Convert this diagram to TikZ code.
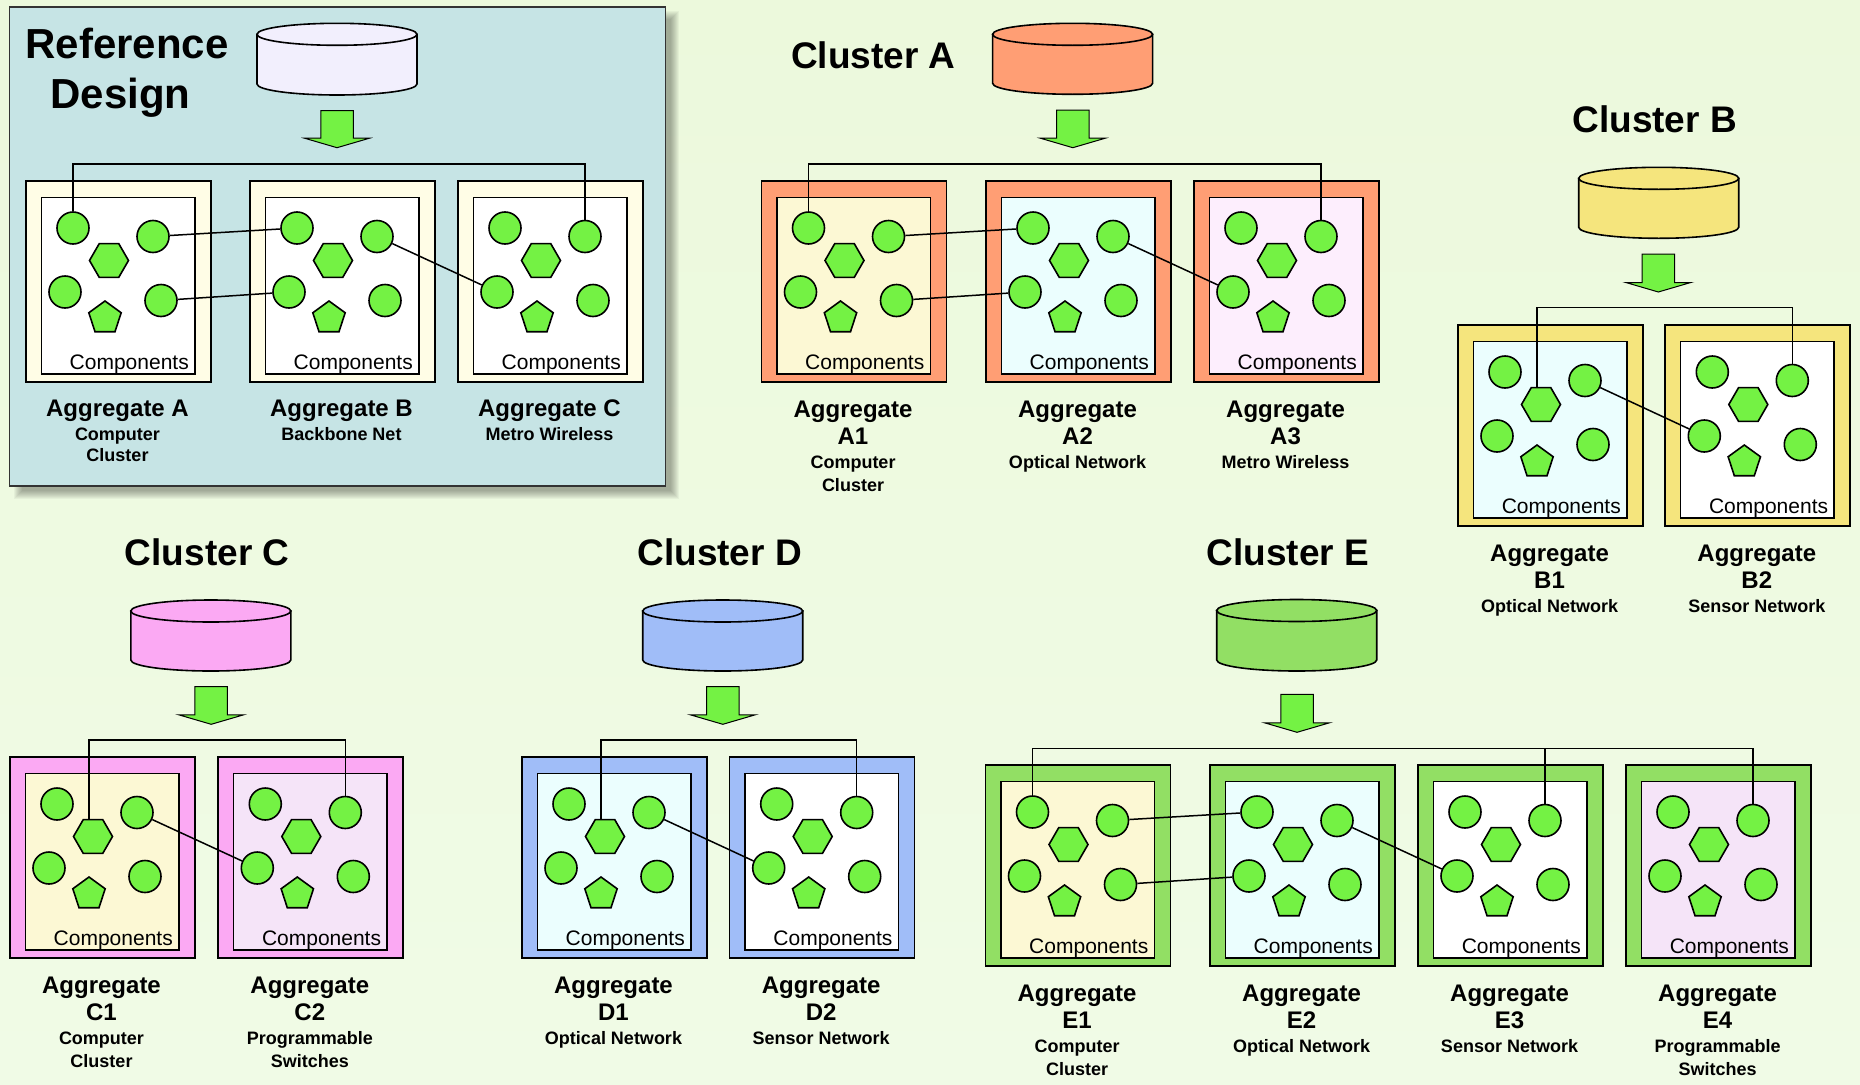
\documentclass[tikz,border=0pt]{standalone}
\usepackage{fontspec}
\setmainfont{Liberation Sans}
\usetikzlibrary{shapes.geometric}
\definecolor{bgtop}{HTML}{ECF9DC}
\definecolor{bgmid}{HTML}{DBF7B9}
\definecolor{bgbot}{HTML}{F0FBE6}
\definecolor{refbg}{HTML}{C6E4E5}
\definecolor{refcyl}{HTML}{F2EFFD}
\definecolor{cream}{HTML}{FFFDE6}
\definecolor{salmon}{HTML}{FF9E74}
\definecolor{yellowB}{HTML}{F5E57D}
\definecolor{pinkC}{HTML}{FBA9F3}
\definecolor{blueD}{HTML}{A0BDF8}
\definecolor{greenE}{HTML}{92DF64}
\definecolor{inyel}{HTML}{FCF8D4}
\definecolor{incyan}{HTML}{EBFEFE}
\definecolor{inpink}{HTML}{FDEEFD}
\definecolor{inlav}{HTML}{F5E4F8}
\definecolor{shapegreen}{HTML}{74F244}
\tikzset{
  outerbox/.style={draw=black, line width=1.6pt, rectangle, inner sep=0pt, anchor=north west, minimum width=185pt, minimum height=201pt},
  innerbox/.style={draw=black, line width=1.6pt, rectangle, inner sep=0pt, anchor=north west, minimum width=153.5pt, minimum height=176.5pt},
  comp/.style={circle, draw=black, line width=1.6pt, fill=shapegreen, minimum size=32pt, inner sep=0pt},
  hexa/.style={regular polygon, regular polygon sides=6, draw=black, line width=1.6pt, fill=shapegreen, minimum size=39pt, inner sep=0pt},
  penta/.style={regular polygon, regular polygon sides=5, draw=black, line width=1.6pt, fill=shapegreen, minimum size=34pt, inner sep=0pt},
  conn/.style={draw=black, line width=1.5pt},
  comptext/.style={font=\fontsize{21}{24}\selectfont, inner sep=0pt, anchor=base east},
  aggtitle/.style={font=\bfseries\fontsize{24}{28}\selectfont, inner sep=0pt, anchor=base},
  aggsub/.style={font=\bfseries\fontsize{18}{21}\selectfont, inner sep=0pt, anchor=base},
  clustertitle/.style={font=\bfseries\fontsize{37}{42}\selectfont, inner sep=0pt, anchor=base},
  bigtitle/.style={font=\bfseries\fontsize{42}{48}\selectfont, inner sep=0pt, anchor=base},
  cylfill/.style={draw=black, line width=1.6pt},
  blockarrow/.style={draw=black, line width=1pt, fill=shapegreen},
}
% aggregate: prefix, x, y, outer colour, inner colour
\newcommand{\mkagg}[5]{%
  \node[outerbox, fill=#4] (#1) at (#2,#3) {};
  \node[innerbox, fill=#5] (#1-in) at (#2+15.5,#3+16.5) {};
  \node[comp] (#1-c1) at (#2+48,#3+48) {};
  \node[comp] (#1-c2) at (#2+128,#3+56.5) {};
  \node[hexa] (#1-hex) at (#2+84,#3+80.5) {};
  \node[comp] (#1-c3) at (#2+40,#3+112) {};
  \node[comp] (#1-c4) at (#2+136,#3+120.5) {};
  \node[penta] (#1-pent) at (#2+80,#3+138) {};
  \node[comptext] (#1-txt) at (#2+164,#3+189.6) {Components};
}
% cluster labels: prefix, x, y, second line, subtitle
\newcommand{\mklabel}[5]{%
  \node[aggtitle] (#1-n1) at (#2+92.5,#3+237.5) {Aggregate};
  \node[aggtitle] (#1-n2) at (#2+92.5,#3+264.5) {#4};
  \node[aggsub] (#1-n3) at (#2+92.5,#3+288.5) {#5};
}
\newcommand{\mkextra}[4]{%
  \node[aggsub] (#1-n4) at (#2+92.5,#3+311) {#4};
}
% cylinder: centre x, top centre y, bottom centre y, colour
\newcommand{\mkcyl}[4]{%
  \filldraw[cylfill, fill=#4] (#1-80,#2) -- (#1-80,#3) arc[start angle=180, end angle=360, x radius=80pt, y radius=11pt] -- (#1+80,#2) -- cycle;
  \filldraw[cylfill, fill=#4] (#1,#2) ellipse [x radius=80pt, y radius=11pt];
}
% block arrow: centre x, top y, tip y
\newcommand{\mkarrow}[3]{%
  \filldraw[blockarrow] (#1-16.25,#2) -- (#1+16.25,#2) -- (#1+16.25,#3-9.5) -- (#1+32.5,#3-9.5) -- (#1,#3) -- (#1-32.5,#3-9.5) -- (#1-16.25,#3-9.5) -- cycle;
}
\begin{document}
\begin{tikzpicture}[x=1pt, y=-1pt]
\useasboundingbox (0,0) rectangle (1860,1084);
\shade[top color=bgtop, middle color=bgmid, bottom color=bgbot] (0,0) rectangle (1860,1084);

% ---------- Reference design panel ----------
\foreach \k in {0,...,8}
  \fill[black, opacity=0.04] (13.5+\k,11+\k) rectangle (678.5-\k,499-\k);
\filldraw[fill=refbg, draw=black!80, line width=1.5pt] (9.5,7) rectangle (665.5,486);
\node[bigtitle] (reftitle1) at (127,58.3) {Reference};
\node[bigtitle] (reftitle2) at (120.6,108.3) {Design};
\mkcyl{337}{34.3}{84}{refcyl}
\mkarrow{337}{110.7}{147.7}
\mkagg{RA}{25}{180}{cream}{white}
\mkagg{RB}{249}{180}{cream}{white}
\mkagg{RC}{457}{180}{cream}{white}
\node[aggtitle] (RA-n1) at (117.5,416.7) {Aggregate A};
\node[aggsub] (RA-n2) at (117.5,440.7) {Computer};
\node[aggsub] (RA-n3) at (117.5,461.7) {Cluster};
\node[aggtitle] (RB-n1) at (341.5,416.7) {Aggregate B};
\node[aggsub] (RB-n2) at (341.5,440.7) {Backbone Net};
\node[aggtitle] (RC-n1) at (549.5,416.7) {Aggregate C};
\node[aggsub] (RC-n2) at (549.5,440.7) {Metro Wireless};
\draw[conn] (RA-c1.north) -- (RA-c1.north |- 0,164) -- (RC-c2.north |- 0,164) -- (RC-c2.north);
\draw[conn] (RA-c2) -- (RB-c1);
\draw[conn] (RA-c4) -- (RB-c3);
\draw[conn] (RB-c2) -- (RC-c3);

% ---------- Cluster A ----------
\node[clustertitle] (titleA) at (873.3,68.3) {Cluster A};
\mkcyl{1072.6}{34.3}{83.3}{salmon}
\mkarrow{1072.8}{110}{147.7}
\mkagg{A1}{760.5}{180}{salmon}{inyel}
\mkagg{A2}{985}{180}{salmon}{incyan}
\mkagg{A3}{1193}{180}{salmon}{inpink}
\mklabel{A1}{760.5}{180}{A1}{Computer}
\mkextra{A1}{760.5}{180}{Cluster}
\mklabel{A2}{985}{180}{A2}{Optical Network}
\mklabel{A3}{1193}{180}{A3}{Metro Wireless}
\draw[conn] (A1-c1.north) -- (A1-c1.north |- 0,164) -- (A3-c2.north |- 0,164) -- (A3-c2.north);
\draw[conn] (A1-c2) -- (A2-c1);
\draw[conn] (A1-c4) -- (A2-c3);
\draw[conn] (A2-c2) -- (A3-c3);

% ---------- Cluster B ----------
\node[clustertitle] (titleB) at (1654.7,132.7) {Cluster B};
\mkcyl{1658.7}{178.3}{227.3}{yellowB}
\mkarrow{1658.3}{254}{292}
\mkagg{B1}{1457}{324}{yellowB}{incyan}
\mkagg{B2}{1664.3}{324}{yellowB}{white}
\mklabel{B1}{1457}{324}{B1}{Optical Network}
\mklabel{B2}{1664.3}{324}{B2}{Sensor Network}
\draw[conn] ([xshift=-4pt]B1-hex.north) -- ([xshift=-4pt]B1-hex.north |- 0,307.3) -- (B2-c2.north |- 0,307.3) -- (B2-c2.north);
\draw[conn] (B1-c2) -- (B2-c3);

% ---------- Cluster C ----------
\node[clustertitle] (titleC) at (207.2,565) {Cluster C};
\mkcyl{210.8}{611}{660}{pinkC}
\mkarrow{211.2}{686.5}{724.3}
\mkagg{C1}{9}{756}{pinkC}{inyel}
\mkagg{C2}{217.3}{756}{pinkC}{inlav}
\mklabel{C1}{9}{756}{C1}{Computer}
\mkextra{C1}{9}{756}{Cluster}
\mklabel{C2}{217.3}{756}{C2}{Programmable}
\mkextra{C2}{217.3}{756}{Switches}
\draw[conn] ([xshift=-4pt]C1-hex.north) -- ([xshift=-4pt]C1-hex.north |- 0,740) -- (C2-c2.north |- 0,740) -- (C2-c2.north);
\draw[conn] (C1-c2) -- (C2-c3);

% ---------- Cluster D ----------
\node[clustertitle] (titleD) at (719.7,565) {Cluster D};
\mkcyl{722.7}{611}{660}{blueD}
\mkarrow{722.8}{686.5}{724.3}
\mkagg{D1}{521}{756}{blueD}{incyan}
\mkagg{D2}{728.7}{756}{blueD}{white}
\mklabel{D1}{521}{756}{D1}{Optical Network}
\mklabel{D2}{728.7}{756}{D2}{Sensor Network}
\draw[conn] ([xshift=-4pt]D1-hex.north) -- ([xshift=-4pt]D1-hex.north |- 0,740) -- (D2-c2.north |- 0,740) -- (D2-c2.north);
\draw[conn] (D1-c2) -- (D2-c3);

% ---------- Cluster E ----------
\node[clustertitle] (titleE) at (1288,565) {Cluster E};
\mkcyl{1296.7}{610.5}{660}{greenE}
\mkarrow{1297}{694.3}{732.3}
\mkagg{E1}{984.5}{764}{greenE}{inyel}
\mkagg{E2}{1209}{764}{greenE}{incyan}
\mkagg{E3}{1417}{764}{greenE}{white}
\mkagg{E4}{1625}{764}{greenE}{inlav}
\mklabel{E1}{984.5}{764}{E1}{Computer}
\mkextra{E1}{984.5}{764}{Cluster}
\mklabel{E2}{1209}{764}{E2}{Optical Network}
\mklabel{E3}{1417}{764}{E3}{Sensor Network}
\mklabel{E4}{1625}{764}{E4}{Programmable}
\mkextra{E4}{1625}{764}{Switches}
\draw[conn] (E1-c1.north) -- (E1-c1.north |- 0,748.3) -- (E4-c2.north |- 0,748.3) -- (E4-c2.north);
\draw[conn] (E3-c2.north |- 0,748.3) -- (E3-c2.north);
\draw[conn] (E1-c2) -- (E2-c1);
\draw[conn] (E1-c4) -- (E2-c3);
\draw[conn] (E2-c2) -- (E3-c3);
\end{tikzpicture}
\end{document}
